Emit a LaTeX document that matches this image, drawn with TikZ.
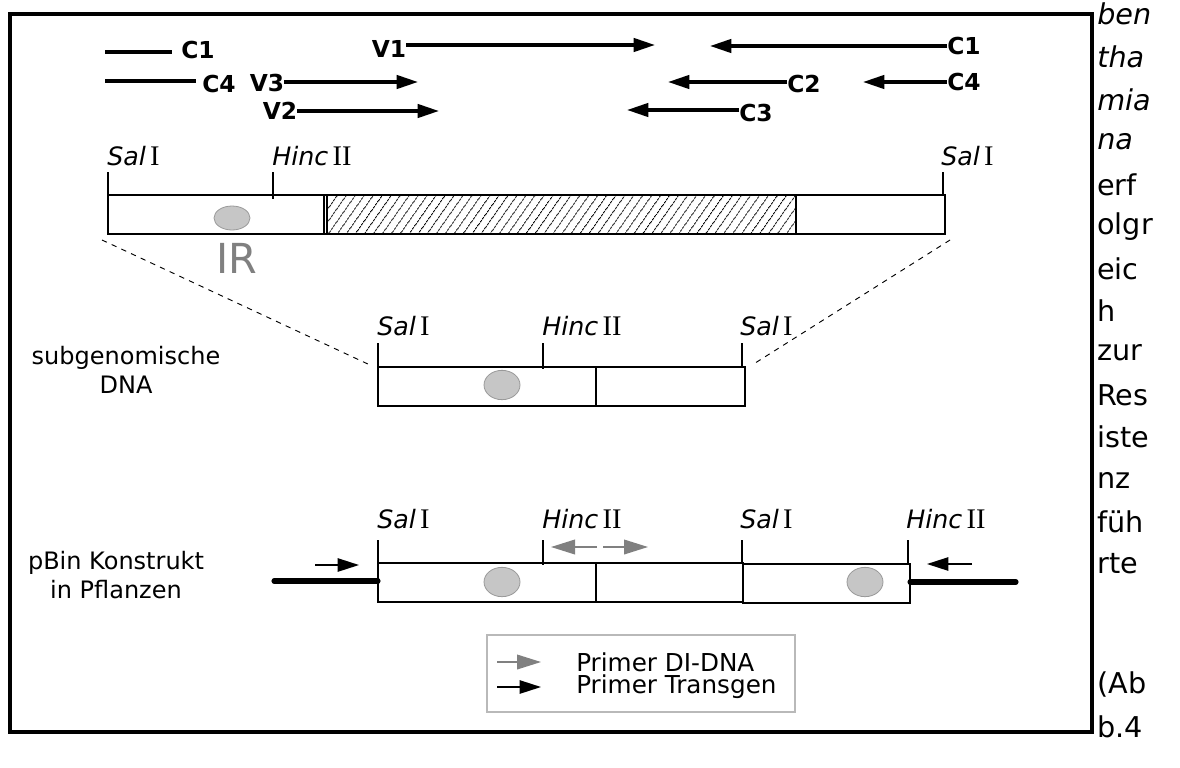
\documentclass[tikz,border=0pt]{standalone}
\usepackage{fontspec}
\setmainfont{DejaVu Sans}
\newfontfamily\romfont[Scale=1.12]{Liberation Serif}
\usetikzlibrary{arrows.meta,patterns.meta,shapes.geometric}
\newcommand{\Sal}{\textit{Sal}\,{\romfont I}}
\newcommand{\Hinc}{\textit{Hinc}\,{\romfont II}}
\begin{document}
\begin{tikzpicture}[x=0.75pt,y=-0.75pt,
  lbl/.style={font=\fontsize{17.5}{19}\selectfont\bfseries, inner sep=0},
  prim/.style={line width=2.5pt, -{Triangle[length=16pt,width=10pt]}},
  plainline/.style={line width=2.5pt},
  site/.style={font=\fontsize{19}{21}\selectfont, inner sep=0, anchor=base west},
  tickline/.style={line width=0.8pt},
  seg/.style={draw, line width=0.9pt},
  irdot/.style={ellipse, draw=gray!80, fill=gray!45, line width=0.6pt, inner sep=0},
  side/.style={font=\fontsize{18}{22}\selectfont, align=center, inner sep=0},
  col/.style={font=\fontsize{21.5}{24}\selectfont, anchor=west, inner sep=0},
  grayprim/.style={draw=gray, line width=1.2pt, -{Triangle[length=18pt,width=11pt,fill=gray]}},
  blackprim/.style={draw=black, line width=1.2pt, -{Triangle[length=16pt,width=10pt]}},
  thick line/.style={line width=3.8pt, line cap=round},
  dashline/.style={line width=0.7pt, dash pattern=on 4pt off 4pt}
]
\useasboundingbox (0,0) rectangle (1180,767);
\fill[white] (0,0) rectangle (1180,767);
% frame
\draw[line width=2.3pt] (10,14) rectangle (1092,732);

% ---------- primers top ----------
\node[lbl] (c1l) at (198,50) {C1};
\coordinate (c1ls) at (105,52);
\draw[plainline] (c1ls) -- (172,52);
\node[lbl] (c4l) at (219,84) {C4};
\coordinate (c4ls) at (105,81);
\draw[plainline] (c4ls) -- (196,81);

\node[lbl] (v1) at (389,49) {V1};
\coordinate (v1e) at (655,45);
\draw[prim] (v1.east |- v1e) -- (v1e);
\node[lbl] (v3) at (267,83) {V3};
\coordinate (v3e) at (418,82);
\draw[prim] (v3.east |- v3e) -- (v3e);
\node[lbl] (v2) at (280,111) {V2};
\coordinate (v2e) at (439,111);
\draw[prim] (v2.east |- v2e) -- (v2e);

\node[lbl] (c1r) at (964,46) {C1};
\coordinate (c1re) at (710,46);
\draw[prim] (c1r.west |- c1re) -- (c1re);
\node[lbl] (c2) at (804,84) {C2};
\coordinate (c2e) at (668,82);
\draw[prim] (c2.west |- c2e) -- (c2e);
\node[lbl] (c4r) at (964,82) {C4};
\coordinate (c4re) at (863,82);
\draw[prim] (c4r.west |- c4re) -- (c4re);
\node[lbl] (c3) at (756,113) {C3};
\coordinate (c3e) at (627,110);
\draw[prim] (c3.west |- c3e) -- (c3e);

% ---------- top bar ----------
\draw[seg] (108,195) rectangle (945,234);
\fill[pattern={Lines[angle=55,distance=5.4pt,line width=0.6pt]}] (326,195) rectangle (796,234);
\draw[line width=0.9pt] (324,195) -- (324,234) (327,195) -- (327,234) (796,195) -- (796,234);
\draw[seg] (108,195) rectangle (945,234);
\draw[tickline] (108,172) -- (108,195);
\draw[tickline] (273,172) -- (273,199);
\draw[tickline] (943,172) -- (943,195);
\node[site] (s1) at (107,165) {\Sal};
\node[site] (h1) at (272,165) {\Hinc};
\node[site] (s2) at (941,165) {\Sal};
\node[irdot, minimum width=27pt, minimum height=18pt] (ir1) at (232,218) {};
\node[font=\fontsize{31}{31}\selectfont, text=gray, inner sep=0] (irl) at (237,258) {IR};

% dashed zoom lines
\coordinate (dl1) at (102,240);
\coordinate (dl2) at (370,365);
\coordinate (dr1) at (950,240);
\coordinate (dr2) at (752,365);
\draw[dashline] (dl1) -- (dl2);
\draw[dashline] (dr1) -- (dr2);

% ---------- subgenomic DNA ----------
\node[side] (sub) at (126,370) {subgenomische\\DNA};
\draw[seg] (378,367) rectangle (745,406);
\draw[line width=1.6pt] (596,367) -- (596,406);
\draw[tickline] (378,343) -- (378,367);
\draw[tickline] (543,343) -- (543,369);
\draw[tickline] (742,343) -- (742,367);
\node[site] (s3) at (377,335) {\Sal};
\node[site] (h2) at (542,335) {\Hinc};
\node[site] (s4) at (740,335) {\Sal};
\node[irdot, minimum width=27pt, minimum height=22pt] (ir2) at (502,385) {};

% ---------- pBin construct ----------
\node[side] (pbin) at (116,575) {pBin Konstrukt\\in Pflanzen};
\draw[seg] (378,563) rectangle (743,602);
\draw[line width=1.6pt] (596,563) -- (596,602);
\draw[seg] (743,564) rectangle (910,603);
\draw[tickline] (378,540) -- (378,563);
\draw[tickline] (543,540) -- (543,565);
\draw[tickline] (742,540) -- (742,563);
\draw[tickline] (908,540) -- (908,563);
\node[site] (s5) at (377,528) {\Sal};
\node[site] (h3) at (542,528) {\Hinc};
\node[site] (s6) at (740,528) {\Sal};
\node[site] (h4) at (906,528) {\Hinc};
\node[irdot, minimum width=27pt, minimum height=22pt] (ir3) at (502,582) {};
\node[irdot, minimum width=27pt, minimum height=22pt] (ir4) at (865,582) {};
\coordinate (gl0) at (597,547);
\coordinate (gl1) at (551,547);
\coordinate (gr0) at (603,547);
\coordinate (gr1) at (648,547);
\draw[grayprim] (gl0) -- (gl1);
\draw[grayprim] (gr0) -- (gr1);
\coordinate (bl0) at (315,565);
\coordinate (bl1) at (359,565);
\coordinate (br0) at (972,564);
\coordinate (br1) at (927,564);
\draw[blackprim] (bl0) -- (bl1);
\draw[blackprim] (br0) -- (br1);
\coordinate (tl0) at (274,581);
\coordinate (tl1) at (378,581);
\coordinate (tr0) at (910,582);
\coordinate (tr1) at (1016,582);
\draw[thick line] (tl0) -- (tl1);
\draw[thick line] (tr0) -- (tr1);

% ---------- legend ----------
\draw[draw=gray!55, line width=0.8pt] (487,635) rectangle (795,712);
\coordinate (lg0) at (497,662);
\coordinate (lg1) at (541,662);
\coordinate (lb0) at (497,687);
\coordinate (lb1) at (541,687);
\draw[grayprim] (lg0) -- (lg1);
\draw[blackprim] (lb0) -- (lb1);
\node[font=\fontsize{18.5}{20}\selectfont, anchor=west, inner sep=0] (leg1) at (576,662) {Primer DI-DNA};
\node[font=\fontsize{18.5}{20}\selectfont, anchor=west, inner sep=0] (leg2) at (576,687) {Primer Transgen};

% ---------- right text column ----------
\node[col] (t1) at (1097,14) {\textit{ben}};
\node[col] (t2) at (1097,57) {\textit{tha}};
\node[col] (t3) at (1097,100) {\textit{mia}};
\node[col] (t4) at (1097,142) {\textit{na}};
\node[col] (t5) at (1097,185) {erf};
\node[col] (t6) at (1097,227) {olgr};
\node[col] (t7) at (1097,269) {eic};
\node[col] (t8) at (1097,311) {h};
\node[col] (t9) at (1097,353) {zur};
\node[col] (t10) at (1097,395) {Res};
\node[col] (t11) at (1097,437) {iste};
\node[col] (t12) at (1097,480) {nz};
\node[col] (t13) at (1097,522) {füh};
\node[col] (t14) at (1097,564) {rte};
\node[col] (t15) at (1097,684) {(Ab};
\node[col] (t16) at (1097,727) {b.4};
\end{tikzpicture}
\end{document}
